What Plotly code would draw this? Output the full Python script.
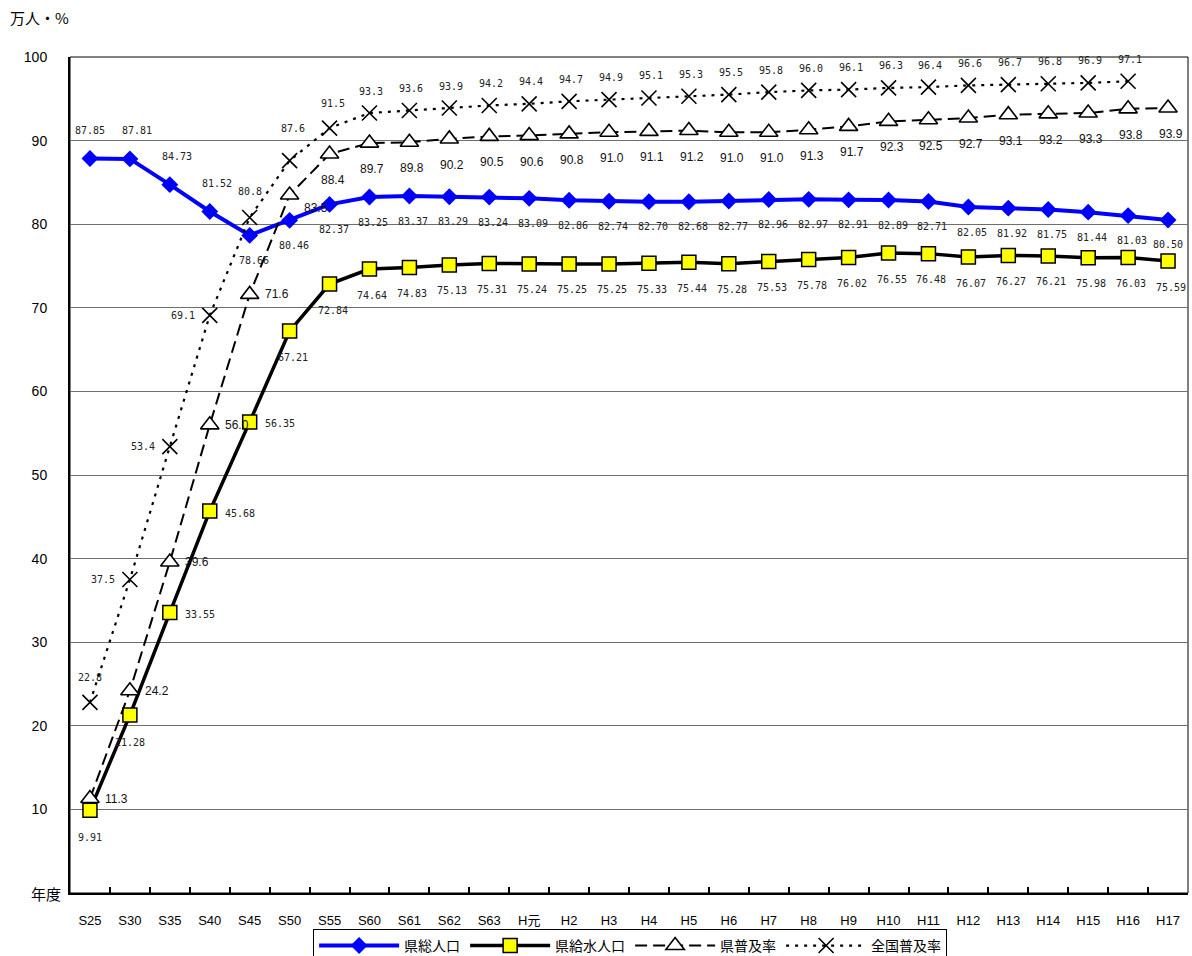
import plotly.graph_objects as go

# Fiscal years (Showa / Heisei)
years = ["S25", "S30", "S35", "S40", "S45", "S50", "S55", "S60", "S61", "S62", "S63",
         "H元", "H2", "H3", "H4", "H5", "H6", "H7", "H8", "H9", "H10", "H11", "H12",
         "H13", "H14", "H15", "H16", "H17"]

# 県総人口 (万人)
pref_population = [87.85, 87.81, 84.73, 81.52, 78.66, 80.46, 82.37, 83.25, 83.37, 83.29,
                   83.24, 83.09, 82.86, 82.74, 82.70, 82.68, 82.77, 82.96, 82.97, 82.91,
                   82.89, 82.71, 82.05, 81.92, 81.75, 81.44, 81.03, 80.50]

# 県給水人口 (万人)
served_population = [9.91, 21.28, 33.55, 45.68, 56.35, 67.21, 72.84, 74.64, 74.83, 75.13,
                     75.31, 75.24, 75.25, 75.25, 75.33, 75.44, 75.28, 75.53, 75.78, 76.02,
                     76.55, 76.48, 76.07, 76.27, 76.21, 75.98, 76.03, 75.59]

# 県普及率 (%)
pref_rate = [11.3, 24.2, 39.6, 56.0, 71.6, 83.5, 88.4, 89.7, 89.8, 90.2, 90.5, 90.6, 90.8,
             91.0, 91.1, 91.2, 91.0, 91.0, 91.3, 91.7, 92.3, 92.5, 92.7, 93.1, 93.2, 93.3,
             93.8, 93.9]

# 全国普及率 (%) - no figure yet for H17
national_rate = [22.8, 37.5, 53.4, 69.1, 80.8, 87.6, 91.5, 93.3, 93.6, 93.9, 94.2, 94.4,
                 94.7, 94.9, 95.1, 95.3, 95.5, 95.8, 96.0, 96.1, 96.3, 96.4, 96.6, 96.7,
                 96.8, 96.9, 97.1, None]

y_ticks = [10, 20, 30, 40, 50, 60, 70, 80, 90, 100]

SANS = "Liberation Sans, Arial, Noto Sans CJK JP, sans-serif"
CJK = "Noto Sans CJK JP, sans-serif"
MONO = "DejaVu Sans Mono, Liberation Mono, monospace"

fig = go.Figure()

fig.add_trace(go.Scatter(
    x=years, y=pref_population, name="県総人口", mode="lines+markers",
    line=dict(color="#0000FF", width=4),
    marker=dict(symbol="diamond", size=13, color="#0000FF"),
))
fig.add_trace(go.Scatter(
    x=years, y=served_population, name="県給水人口", mode="lines+markers",
    line=dict(color="#000000", width=3.5),
    marker=dict(symbol="square", size=14, color="#FFFF00",
                line=dict(color="#000000", width=1.5)),
))
fig.add_trace(go.Scatter(
    x=years, y=pref_rate, name="県普及率", mode="lines+markers",
    line=dict(color="#000000", width=2, dash="12px,6px"),
    marker=dict(symbol="triangle-up", size=16, color="#FFFFFF",
                line=dict(color="#000000", width=1.6)),
))
fig.add_trace(go.Scatter(
    x=years, y=national_rate, name="全国普及率", mode="lines+markers",
    line=dict(color="#000000", width=2.2, dash="3px,6px"),
    marker=dict(symbol="x-thin", size=15, color="#000000",
                line=dict(color="#000000", width=1.6)),
    connectgaps=False,
))


def label_offsets(series, i):
    """Pixel offset (dx, dy) of the value label for point i of a series."""
    if series == "pop":
        if i == 0:
            return 0, 28
        if i <= 3:
            return 7, 28
        if i == len(years) - 1:
            return 0, -24
        return 4, -25
    if series == "served":
        if i <= 1:
            return 0, -27
        if 2 <= i <= 4:
            return 30, -2
        return 3, -26
    if series == "rate":
        if i <= 4:
            return 27, 0
        if i == 5:
            return 26, -13
        return 3, -26
    if series == "national":
        if i == 0:
            return 0, 25
        if 1 <= i <= 3:
            return -27, 0
        if i == 4:
            return 0, 26
        if i == 5:
            return 3, 32
        if i == 6:
            return 3, 25
        return 2, 22
    return 0, 0


annotations = []


def add_labels(series, values, fmt, font):
    for i, v in enumerate(values):
        if v is None:
            continue
        dx, dy = label_offsets(series, i)
        annotations.append(dict(
            x=years[i], y=v, text=fmt.format(v), showarrow=False,
            xshift=dx, yshift=dy, font=font,
        ))


small = dict(family=MONO, size=10, color="#222222")
add_labels("pop", pref_population, "{:.2f}", small)
add_labels("served", served_population, "{:.2f}", small)
add_labels("rate", pref_rate, "{:.1f}", dict(family=SANS, size=12, color="#111111"))
add_labels("national", national_rate, "{:.1f}", small)

# unit caption and year caption
annotations.append(dict(xref="paper", yref="paper", x=-0.0555, y=1.0,
                        yshift=40, yanchor="middle", text="万人・%", showarrow=False,
                        xanchor="left", font=dict(family=CJK, size=15, color="#000")))
annotations.append(dict(xref="paper", yref="paper", x=-0.0063, y=0.0,
                        yanchor="middle", text="年度", showarrow=False, xanchor="right",
                        font=dict(family=CJK, size=15, color="#000")))

fig.update_layout(
    width=1192, height=956,
    margin=dict(l=70, r=4, t=57, b=63, autoexpand=False),
    paper_bgcolor="#FFFFFF", plot_bgcolor="#FFFFFF",
    showlegend=True,
    legend=dict(
        orientation="h", x=0.501, xanchor="center", y=-0.043, yanchor="top",
        bordercolor="#000000", borderwidth=1, bgcolor="#FFFFFF",
        font=dict(family=CJK, size=14, color="#000"),
        itemwidth=80, tracegroupgap=0,
    ),
    annotations=annotations,
    shapes=[dict(type="rect", xref="paper", yref="paper", x0=0, y0=0, x1=1, y1=1,
                 line=dict(color="#000000", width=1), layer="below")],
)

fig.update_xaxes(
    type="category", categoryorder="array", categoryarray=years,
    range=[-0.5, len(years) - 0.5],
    showline=True, linecolor="#000000", linewidth=2,
    ticks="inside", tickson="boundaries", ticklen=6, tickcolor="#000000", tickwidth=1.5,
    showgrid=False, zeroline=False,
    tickfont=dict(family=SANS, size=13, color="#000"),
    ticklabelstandoff=14,
)
fig.update_yaxes(
    range=[0, 100], tickmode="array", tickvals=y_ticks,
    ticktext=[str(t) for t in y_ticks],
    showline=True, linecolor="#000000", linewidth=2,
    showgrid=True, gridcolor="#6E6E6E", gridwidth=1,
    zeroline=False, ticks="",
    tickfont=dict(family=SANS, size=14, color="#000"),
    ticklabelstandoff=18,
)

fig.write_html("out.html")
